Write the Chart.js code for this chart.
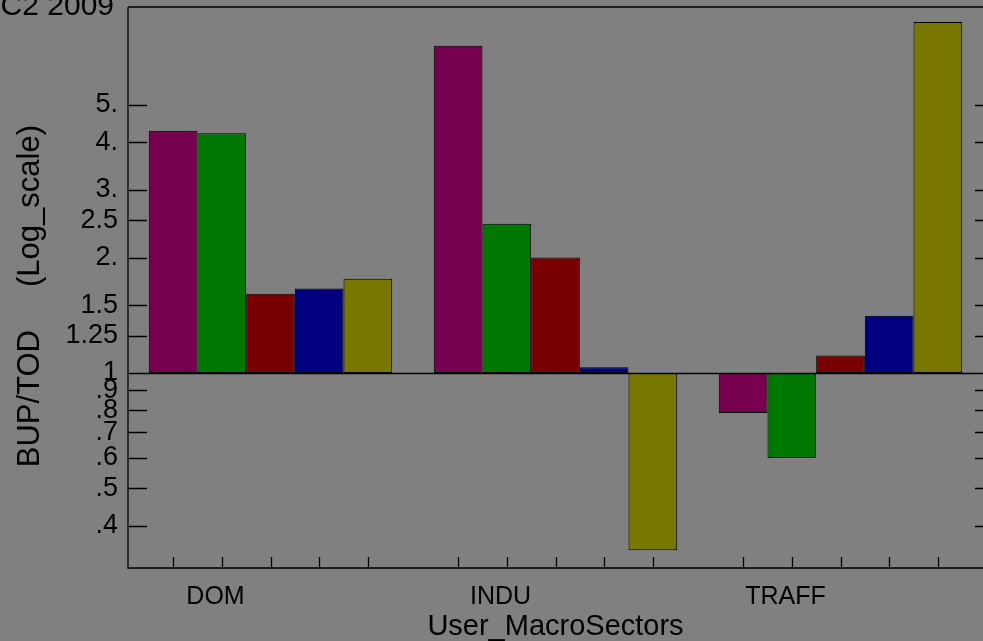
<!DOCTYPE html>
<html>
<head>
<meta charset="utf-8">
<script src="https://cdn.jsdelivr.net/npm/chart.js@4/dist/chart.umd.min.js"></script>
<style>
	html, body { margin: 0; padding: 0; background: #808080; overflow: hidden; }
	#wrap { width: 983px; height: 641px; }
</style>
</head>
<body>
<div id="wrap"><canvas id="chart" width="983" height="641"></canvas></div>
<script>
const sectors = ['DOM', 'INDU', 'TRAFF']
const seriesColors = ['#780050', '#007800', '#780000', '#000080', '#787800']
const series1 = [4.28, 7.13, 0.786]
const series2 = [4.22, 2.45, 0.60]
const series3 = [1.61, 2.0, 1.11]
const series4 = [1.66, 1.035, 1.41]
const series5 = [1.76, 0.345, 8.23]
const yTickValues = [0.4, 0.5, 0.6, 0.7, 0.8, 0.9, 1, 1.25, 1.5, 2, 2.5, 3, 4, 5]
const yTickLabels = ['.4', '.5', '.6', '.7', '.8', '.9', '1', '1.25', '1.5', '2.', '2.5', '3.', '4.', '5.']
const baseValue = 1

const FONT = "'Liberation Sans', Arial, sans-serif"

const allSeries = [series1, series2, series3, series4, series5]
const datasets = allSeries.map((vals, i) => ({
	data: vals.map((v) => [baseValue, v]),
	backgroundColor: seriesColors[i],
	borderColor: '#000',
	borderWidth: 1,
	borderSkipped: false,
	categoryPercentage: 0.854,
	barPercentage: 1,
}))

// frame, inward ticks, baseline at 1 and the clipped title
const framePlugin = {
	id: 'frame',
	afterDraw(chart) {
		const { ctx, chartArea } = chart
		const { left, right, top, bottom } = chartArea
		const y = chart.scales.y
		ctx.save()
		ctx.strokeStyle = '#000'
		ctx.lineWidth = 1.3
		ctx.beginPath()
		ctx.moveTo(left, top)
		ctx.lineTo(left, bottom)
		ctx.lineTo(right, bottom)
		ctx.moveTo(left, top)
		ctx.lineTo(right, top)
		const py1 = Math.round(y.getPixelForValue(baseValue)) + 0.5
		ctx.moveTo(left, py1)
		ctx.lineTo(right, py1)
		y.ticks.forEach((t) => {
			const py = Math.round(y.getPixelForValue(t.value)) + 0.5
			ctx.moveTo(left, py)
			ctx.lineTo(left + 19, py)
			ctx.moveTo(right + 10, py)
			ctx.lineTo(right - 8, py)
		})
		chart.data.datasets.forEach((_, di) => {
			chart.getDatasetMeta(di).data.forEach((bar) => {
				const px = Math.round(bar.x) + 0.5
				ctx.moveTo(px, bottom)
				ctx.lineTo(px, bottom - 11)
			})
		})
		ctx.stroke()

		ctx.fillStyle = '#000'
		ctx.font = `30px ${FONT}`
		ctx.textAlign = 'right'
		ctx.textBaseline = 'alphabetic'
		ctx.fillText('C2 2009', 114, 15)
		ctx.restore()
	},
}

new Chart(document.getElementById('chart'), {
	type: 'bar',
	data: { labels: sectors, datasets },
	options: {
		responsive: false,
		animation: false,
		devicePixelRatio: 1,
		layout: { padding: { top: 7, left: 0, right: 0, bottom: 0 } },
		plugins: {
			legend: { display: false },
			tooltip: { enabled: false },
		},
		scales: {
			x: {
				type: 'category',
				offset: true,
				grid: { display: false, drawTicks: false },
				border: { display: false },
				ticks: {
					color: '#000',
					font: { family: FONT, size: 25 },
					padding: 14,
					labelOffset: -55,
					maxRotation: 0,
				},
				title: {
					display: true,
					text: 'User_MacroSectors',
					color: '#000',
					font: { family: FONT, size: 29 },
					padding: { top: 0, bottom: -3 },
				},
				afterFit: (scale) => {
					scale.height = 73
				},
			},
			y: {
				type: 'logarithmic',
				bounds: 'data',
				min: 0.31,
				max: 9,
				grid: { display: false, drawTicks: false },
				border: { display: false },
				afterBuildTicks: (scale) => {
					scale.ticks = yTickValues.map((v) => ({ value: v }))
				},
				ticks: {
					color: '#000',
					font: { family: FONT, size: 27 },
					padding: 10,
					autoSkip: false,
					callback: (v) => yTickLabels[yTickValues.indexOf(v)] ?? '',
				},
				title: {
					display: true,
					text: 'BUP/TOD     (Log_scale)  ',
					color: '#000',
					font: { family: FONT, size: 31 },
					padding: { top: 12, bottom: 0 },
				},
				afterFit: (scale) => {
					scale.width = 128
					scale.paddingTop = 0
					scale.paddingBottom = 0
				},
			},
		},
	},
	plugins: [framePlugin],
})
</script>
</body>
</html>
